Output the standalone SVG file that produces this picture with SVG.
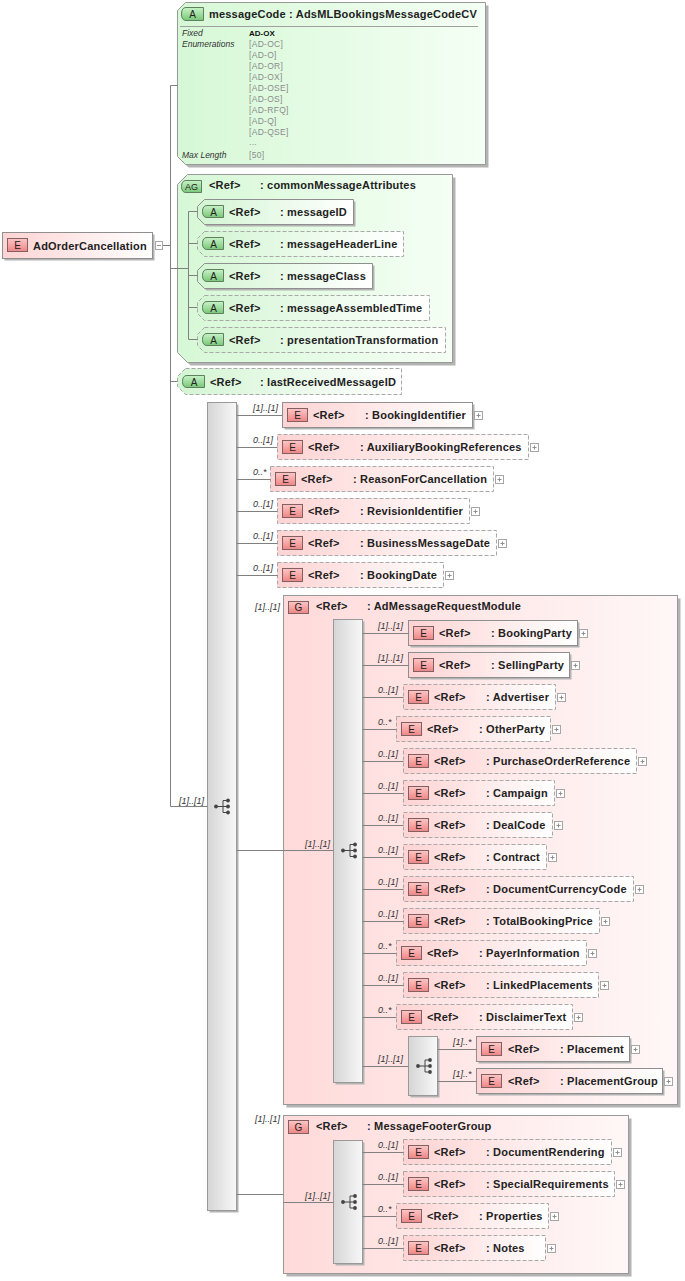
<svg xmlns="http://www.w3.org/2000/svg" width="685" height="1281" viewBox="0 0 685 1281">
<defs>
<linearGradient id="gE" x1="0" y1="0" x2="1" y2="0"><stop offset="0" stop-color="#ffd3d3"/><stop offset="1" stop-color="#ffffff"/></linearGradient>
<linearGradient id="gG" x1="0" y1="0" x2="1" y2="0"><stop offset="0" stop-color="#ffdada"/><stop offset="1" stop-color="#fff7f7"/></linearGradient>
<linearGradient id="gA" x1="0" y1="0" x2="1" y2="0"><stop offset="0" stop-color="#d3f5d3"/><stop offset="1" stop-color="#ffffff"/></linearGradient>
<linearGradient id="gAG" x1="0" y1="0" x2="1" y2="0"><stop offset="0" stop-color="#d6f8d6"/><stop offset="1" stop-color="#f5fff5"/></linearGradient>
<linearGradient id="gS" x1="0" y1="0" x2="1" y2="0"><stop offset="0" stop-color="#d5d5d5"/><stop offset="1" stop-color="#f8f8f8"/></linearGradient>
<linearGradient id="gBE" x1="0" y1="0" x2="0" y2="1"><stop offset="0" stop-color="#ffc6c6"/><stop offset="1" stop-color="#ee8585"/></linearGradient>
<linearGradient id="gBA" x1="0" y1="0" x2="0" y2="1"><stop offset="0" stop-color="#c8f2c8"/><stop offset="1" stop-color="#78c878"/></linearGradient>
<g id="seq"><path d="M-6 0H1M1 -6V6M1 -6H6M1 0H6M1 6H6" stroke="#444" fill="none"/><circle cx="-6" cy="0" r="1.9" fill="#444"/><circle cx="6" cy="-6" r="1.9" fill="#444"/><circle cx="6" cy="0" r="1.9" fill="#444"/><circle cx="6" cy="6" r="1.9" fill="#444"/></g>
<g id="plus"><rect x="2.5" y="-3.5" width="8" height="8" fill="#fff" stroke="#a6a6a6"/><path d="M4.5 0.5h4M6.5 -1.5v4" stroke="#909090" fill="none"/></g>
</defs>
<style>
.sh{fill:#b3b3b3}
.el{fill:url(#gE);stroke:#8f8f8f}
.eld{fill:url(#gE);stroke:#a8a8a8;stroke-dasharray:4 2}
.gr{fill:url(#gG);stroke:#999}
.at{fill:url(#gA);stroke:#8f8f8f}
.atd{fill:url(#gA);stroke:#a8a8a8;stroke-dasharray:4 2}
.ag{fill:url(#gAG);stroke:#999}
.sq{fill:url(#gS);stroke:#999}
.bE{fill:url(#gBE);stroke:#806060}
.bA{fill:url(#gBA);stroke:#5f7f5f}
.ln{stroke:#808080;fill:none}
.t{font-family:"Liberation Sans",Arial,sans-serif;font-size:11px;font-weight:bold;fill:#222;letter-spacing:0.2px}
.b{font-family:"Liberation Sans",Arial,sans-serif;font-size:10px;fill:#222;text-anchor:middle}
.m{font-family:"Liberation Sans",Arial,sans-serif;font-size:9px;font-style:italic;fill:#333}
.d{font-family:"Liberation Sans",Arial,sans-serif;font-size:8.5px;font-style:italic;fill:#333}
.v{font-family:"Liberation Sans",Arial,sans-serif;font-size:8.5px;fill:#8c8c8c;letter-spacing:0.3px}
.vb{font-family:"Liberation Sans",Arial,sans-serif;font-size:8px;font-weight:bold;fill:#111}
</style>
<rect width="685" height="1281" fill="#fff"/>

<g id="root">
<rect class="sh" x="4.5" y="234.5" width="150" height="26"/>
<rect class="el" x="2.5" y="232.5" width="150" height="26"/>
<rect class="bE" x="7.5" y="238.5" width="20" height="13"/>
<text class="b" x="17.5" y="249">E</text>
<text class="t" x="33" y="249.5">AdOrderCancellation</text>
<rect x="155.5" y="241.5" width="7" height="8" fill="#fff" stroke="#a6a6a6"/>
<path d="M157 245.5h4" stroke="#909090"/>
</g>

<g id="messageCode">
<path class="sh" d="M188.5 5.5H488.5V167.5H188.5L180.5 159.5V13.5Z"/>
<path class="ag" d="M185.5 2.5H485.5V164.5H185.5L177.5 156.5V10.5Z"/>
<path class="bA" d="M186 7.5H203.5V20.5H186Q181.5 20.5 181.5 14Q181.5 7.5 186 7.5Z"/>
<text class="b" x="192.5" y="18">A</text>
<text class="t" x="209" y="18">messageCode : AdsMLBookingsMessageCodeCV</text>
<path d="M180 26.5H478" stroke="#a0a0a0"/>
<text class="d" x="182" y="36">Fixed</text>
<text class="d" x="182" y="47">Enumerations</text>
<text class="vb" x="249" y="36">AD-OX</text>
<text class="v" x="249" y="46.5">[AD-OC]</text>
<text class="v" x="249" y="57.5">[AD-O]</text>
<text class="v" x="249" y="68.5">[AD-OR]</text>
<text class="v" x="249" y="79.5">[AD-OX]</text>
<text class="v" x="249" y="90.5">[AD-OSE]</text>
<text class="v" x="249" y="101.5">[AD-OS]</text>
<text class="v" x="249" y="112.5">[AD-RFQ]</text>
<text class="v" x="249" y="123.5">[AD-Q]</text>
<text class="v" x="249" y="134.5">[AD-QSE]</text>
<text class="v" x="249" y="144.5">...</text>
<text class="d" x="182" y="158">Max Length</text>
<text class="v" x="249" y="157.5">[50]</text>
</g>

<g id="commonMessageAttributes">
<path class="sh" d="M190.5 177.5H455.5V365.5H190.5L180.5 355.5V187.5Z"/>
<path class="ag" d="M187.5 174.5H452.5V362.5H187.5L177.5 352.5V184.5Z"/>
<path class="bA" d="M186 180.5H201.5V192.5H186Q181.5 192.5 181.5 186.5Q181.5 180.5 186 180.5Z"/>
<text class="b" x="191.5" y="190" style="font-size:9px">AG</text>
<text class="t" x="209" y="189">&lt;Ref&gt;</text>
<text class="t" x="260" y="189">: commonMessageAttributes</text>
</g>

<g id="messageID">
<path class="sh" d="M206.5 201.5H355.5V226.5H206.5L199.5 219.5V208.5Z"/>
<path class="at" d="M204.5 199.5H353.5V224.5H204.5L197.5 217.5V206.5Z"/>
<path class="bA" d="M207 205.5H223.5V217.5H207Q202.5 217.5 202.5 211.5Q202.5 205.5 207 205.5Z"/>
<text class="b" x="213.5" y="215.5">A</text>
<text class="t" x="229" y="216">&lt;Ref&gt;</text>
<text class="t" x="280" y="216">: messageID</text>
</g>
<g id="messageHeaderLine">
<path class="atd" d="M204.5 231.5H403.5V256.5H204.5L197.5 249.5V238.5Z"/>
<path class="bA" d="M207 237.5H223.5V249.5H207Q202.5 249.5 202.5 243.5Q202.5 237.5 207 237.5Z"/>
<text class="b" x="213.5" y="247.5">A</text>
<text class="t" x="229" y="248">&lt;Ref&gt;</text>
<text class="t" x="280" y="248">: messageHeaderLine</text>
</g>
<g id="messageClass">
<path class="sh" d="M206.5 265.5H374.5V290.5H206.5L199.5 283.5V272.5Z"/>
<path class="at" d="M204.5 263.5H372.5V288.5H204.5L197.5 281.5V270.5Z"/>
<path class="bA" d="M207 269.5H223.5V281.5H207Q202.5 281.5 202.5 275.5Q202.5 269.5 207 269.5Z"/>
<text class="b" x="213.5" y="279.5">A</text>
<text class="t" x="229" y="280">&lt;Ref&gt;</text>
<text class="t" x="280" y="280">: messageClass</text>
</g>
<g id="messageAssembledTime">
<path class="atd" d="M204.5 295.5H429.5V320.5H204.5L197.5 313.5V302.5Z"/>
<path class="bA" d="M207 301.5H223.5V313.5H207Q202.5 313.5 202.5 307.5Q202.5 301.5 207 301.5Z"/>
<text class="b" x="213.5" y="311.5">A</text>
<text class="t" x="229" y="312">&lt;Ref&gt;</text>
<text class="t" x="280" y="312">: messageAssembledTime</text>
</g>
<g id="presentationTransformation">
<path class="atd" d="M204.5 327.5H445.5V352.5H204.5L197.5 345.5V334.5Z"/>
<path class="bA" d="M207 333.5H223.5V345.5H207Q202.5 345.5 202.5 339.5Q202.5 333.5 207 333.5Z"/>
<text class="b" x="213.5" y="343.5">A</text>
<text class="t" x="229" y="344">&lt;Ref&gt;</text>
<text class="t" x="280" y="344">: presentationTransformation</text>
</g>

<g id="lastReceivedMessageID">
<path class="atd" d="M185.5 368.5H401.5V394.5H185.5L177.5 386.5V376.5Z"/>
<path class="bA" d="M187 375.5H204.5V387.5H187Q182.5 387.5 182.5 381.5Q182.5 375.5 187 375.5Z"/>
<text class="b" x="194" y="385.5">A</text>
<text class="t" x="210" y="385.5">&lt;Ref&gt;</text>
<text class="t" x="260" y="385.5">: lastReceivedMessageID</text>
</g>

<g id="mainSequence">
<rect class="sh" x="209.5" y="404.5" width="29" height="808"/>
<rect class="sq" x="207.5" y="402.5" width="29" height="808"/>
<use href="#seq" x="222" y="806.5"/>
</g>

<g id="BookingIdentifier">
<rect class="sh" x="284.5" y="404.5" width="190" height="25"/>
<rect class="el" x="282.5" y="402.5" width="190" height="25"/>
<rect class="bE" x="287.5" y="408.5" width="20" height="13"/>
<text class="b" x="297.5" y="419">E</text>
<text class="t" x="313" y="419">&lt;Ref&gt;</text>
<text class="t" x="365" y="419">: BookingIdentifier</text>
<use href="#plus" x="472" y="415"/>
</g>
<g id="AuxiliaryBookingReferences">
<rect class="eld" x="277.5" y="434.5" width="251" height="25"/>
<rect class="bE" x="282.5" y="440.5" width="20" height="13"/>
<text class="b" x="292.5" y="451">E</text>
<text class="t" x="308" y="451">&lt;Ref&gt;</text>
<text class="t" x="360" y="451">: AuxiliaryBookingReferences</text>
<use href="#plus" x="528" y="447"/>
</g>
<g id="ReasonForCancellation">
<rect class="eld" x="270.5" y="466.5" width="223" height="25"/>
<rect class="bE" x="275.5" y="472.5" width="20" height="13"/>
<text class="b" x="285.5" y="483">E</text>
<text class="t" x="301" y="483">&lt;Ref&gt;</text>
<text class="t" x="353" y="483">: ReasonForCancellation</text>
<use href="#plus" x="493" y="479"/>
</g>
<g id="RevisionIdentifier">
<rect class="eld" x="277.5" y="498.5" width="192" height="25"/>
<rect class="bE" x="282.5" y="504.5" width="20" height="13"/>
<text class="b" x="292.5" y="515">E</text>
<text class="t" x="308" y="515">&lt;Ref&gt;</text>
<text class="t" x="360" y="515">: RevisionIdentifier</text>
<use href="#plus" x="469" y="511"/>
</g>
<g id="BusinessMessageDate">
<rect class="eld" x="277.5" y="530.5" width="219" height="25"/>
<rect class="bE" x="282.5" y="536.5" width="20" height="13"/>
<text class="b" x="292.5" y="547">E</text>
<text class="t" x="308" y="547">&lt;Ref&gt;</text>
<text class="t" x="360" y="547">: BusinessMessageDate</text>
<use href="#plus" x="496" y="543"/>
</g>
<g id="BookingDate">
<rect class="eld" x="277.5" y="562.5" width="166" height="25"/>
<rect class="bE" x="282.5" y="568.5" width="20" height="13"/>
<text class="b" x="292.5" y="579">E</text>
<text class="t" x="308" y="579">&lt;Ref&gt;</text>
<text class="t" x="360" y="579">: BookingDate</text>
<use href="#plus" x="443" y="575"/>
</g>

<g id="AdMessageRequestModule">
<rect class="sh" x="286.5" y="598.5" width="394" height="509"/>
<rect class="gr" x="283.5" y="595.5" width="394" height="509"/>
<rect class="bE" x="288.5" y="601.5" width="20" height="12"/>
<text class="b" x="298.5" y="611">G</text>
<text class="t" x="316" y="610">&lt;Ref&gt;</text>
<text class="t" x="367" y="610">: AdMessageRequestModule</text>
</g>
<g id="requestSequence">
<rect class="sh" x="335.5" y="621.5" width="29" height="463"/>
<rect class="sq" x="333.5" y="619.5" width="29" height="463"/>
<use href="#seq" x="349" y="850.5"/>
</g>

<g id="BookingParty">
<rect class="sh" x="410.5" y="622.5" width="169" height="25"/>
<rect class="el" x="408.5" y="620.5" width="169" height="25"/>
<rect class="bE" x="413.5" y="626.5" width="20" height="13"/>
<text class="b" x="423.5" y="637">E</text>
<text class="t" x="439" y="637">&lt;Ref&gt;</text>
<text class="t" x="491" y="637">: BookingParty</text>
<use href="#plus" x="577" y="633"/>
</g>
<g id="SellingParty">
<rect class="sh" x="410.5" y="654.5" width="161" height="25"/>
<rect class="el" x="408.5" y="652.5" width="161" height="25"/>
<rect class="bE" x="413.5" y="658.5" width="20" height="13"/>
<text class="b" x="423.5" y="669">E</text>
<text class="t" x="439" y="669">&lt;Ref&gt;</text>
<text class="t" x="491" y="669">: SellingParty</text>
<use href="#plus" x="569" y="665"/>
</g>
<g id="Advertiser">
<rect class="eld" x="403.5" y="684.5" width="152" height="25"/>
<rect class="bE" x="408.5" y="690.5" width="20" height="13"/>
<text class="b" x="418.5" y="701">E</text>
<text class="t" x="434" y="701">&lt;Ref&gt;</text>
<text class="t" x="486" y="701">: Advertiser</text>
<use href="#plus" x="555" y="697"/>
</g>
<g id="OtherParty">
<rect class="eld" x="396.5" y="716.5" width="154" height="25"/>
<rect class="bE" x="401.5" y="722.5" width="20" height="13"/>
<text class="b" x="411.5" y="733">E</text>
<text class="t" x="427" y="733">&lt;Ref&gt;</text>
<text class="t" x="479" y="733">: OtherParty</text>
<use href="#plus" x="550" y="729"/>
</g>
<g id="PurchaseOrderReference">
<rect class="eld" x="403.5" y="748.5" width="233" height="25"/>
<rect class="bE" x="408.5" y="754.5" width="20" height="13"/>
<text class="b" x="418.5" y="765">E</text>
<text class="t" x="434" y="765">&lt;Ref&gt;</text>
<text class="t" x="486" y="765">: PurchaseOrderReference</text>
<use href="#plus" x="636" y="761"/>
</g>
<g id="Campaign">
<rect class="eld" x="403.5" y="780.5" width="151" height="25"/>
<rect class="bE" x="408.5" y="786.5" width="20" height="13"/>
<text class="b" x="418.5" y="797">E</text>
<text class="t" x="434" y="797">&lt;Ref&gt;</text>
<text class="t" x="486" y="797">: Campaign</text>
<use href="#plus" x="554" y="793"/>
</g>
<g id="DealCode">
<rect class="eld" x="403.5" y="812.5" width="149" height="25"/>
<rect class="bE" x="408.5" y="818.5" width="20" height="13"/>
<text class="b" x="418.5" y="829">E</text>
<text class="t" x="434" y="829">&lt;Ref&gt;</text>
<text class="t" x="486" y="829">: DealCode</text>
<use href="#plus" x="552" y="825"/>
</g>
<g id="Contract">
<rect class="eld" x="403.5" y="844.5" width="143" height="25"/>
<rect class="bE" x="408.5" y="850.5" width="20" height="13"/>
<text class="b" x="418.5" y="861">E</text>
<text class="t" x="434" y="861">&lt;Ref&gt;</text>
<text class="t" x="486" y="861">: Contract</text>
<use href="#plus" x="546" y="857"/>
</g>
<g id="DocumentCurrencyCode">
<rect class="eld" x="403.5" y="876.5" width="230" height="25"/>
<rect class="bE" x="408.5" y="882.5" width="20" height="13"/>
<text class="b" x="418.5" y="893">E</text>
<text class="t" x="434" y="893">&lt;Ref&gt;</text>
<text class="t" x="486" y="893">: DocumentCurrencyCode</text>
<use href="#plus" x="633" y="889"/>
</g>
<g id="TotalBookingPrice">
<rect class="eld" x="403.5" y="908.5" width="196" height="25"/>
<rect class="bE" x="408.5" y="914.5" width="20" height="13"/>
<text class="b" x="418.5" y="925">E</text>
<text class="t" x="434" y="925">&lt;Ref&gt;</text>
<text class="t" x="486" y="925">: TotalBookingPrice</text>
<use href="#plus" x="599" y="921"/>
</g>
<g id="PayerInformation">
<rect class="eld" x="396.5" y="940.5" width="190" height="25"/>
<rect class="bE" x="401.5" y="946.5" width="20" height="13"/>
<text class="b" x="411.5" y="957">E</text>
<text class="t" x="427" y="957">&lt;Ref&gt;</text>
<text class="t" x="479" y="957">: PayerInformation</text>
<use href="#plus" x="586" y="953"/>
</g>
<g id="LinkedPlacements">
<rect class="eld" x="403.5" y="972.5" width="195" height="25"/>
<rect class="bE" x="408.5" y="978.5" width="20" height="13"/>
<text class="b" x="418.5" y="989">E</text>
<text class="t" x="434" y="989">&lt;Ref&gt;</text>
<text class="t" x="486" y="989">: LinkedPlacements</text>
<use href="#plus" x="598" y="985"/>
</g>
<g id="DisclaimerText">
<rect class="eld" x="396.5" y="1004.5" width="176" height="25"/>
<rect class="bE" x="401.5" y="1010.5" width="20" height="13"/>
<text class="b" x="411.5" y="1021">E</text>
<text class="t" x="427" y="1021">&lt;Ref&gt;</text>
<text class="t" x="479" y="1021">: DisclaimerText</text>
<use href="#plus" x="572" y="1017"/>
</g>
<g id="placementSequence">
<rect class="sh" x="410.5" y="1038.5" width="29" height="59"/>
<rect class="sq" x="408.5" y="1036.5" width="29" height="59"/>
<use href="#seq" x="424" y="1066"/>
</g>
<g id="Placement">
<rect class="sh" x="478.5" y="1038.5" width="153" height="25"/>
<rect class="el" x="476.5" y="1036.5" width="153" height="25"/>
<rect class="bE" x="481.5" y="1042.5" width="20" height="13"/>
<text class="b" x="491.5" y="1053">E</text>
<text class="t" x="508" y="1053">&lt;Ref&gt;</text>
<text class="t" x="560" y="1053">: Placement</text>
<use href="#plus" x="629" y="1049"/>
</g>
<g id="PlacementGroup">
<rect class="sh" x="478.5" y="1070.5" width="186" height="25"/>
<rect class="el" x="476.5" y="1068.5" width="186" height="25"/>
<rect class="bE" x="481.5" y="1074.5" width="20" height="13"/>
<text class="b" x="491.5" y="1085">E</text>
<text class="t" x="508" y="1085">&lt;Ref&gt;</text>
<text class="t" x="560" y="1085">: PlacementGroup</text>
<use href="#plus" x="662" y="1081"/>
</g>

<g id="MessageFooterGroup">
<rect class="sh" x="286.5" y="1118.5" width="345" height="158"/>
<rect class="gr" x="283.5" y="1115.5" width="345" height="158"/>
<rect class="bE" x="288.5" y="1120.5" width="20" height="13"/>
<text class="b" x="298.5" y="1131">G</text>
<text class="t" x="316" y="1130">&lt;Ref&gt;</text>
<text class="t" x="367" y="1130">: MessageFooterGroup</text>
</g>
<g id="footerSequence">
<rect class="sh" x="335.5" y="1142.5" width="29" height="123"/>
<rect class="sq" x="333.5" y="1140.5" width="29" height="123"/>
<use href="#seq" x="349" y="1202"/>
</g>
<g id="DocumentRendering">
<rect class="eld" x="403.5" y="1139.5" width="208" height="25"/>
<rect class="bE" x="408.5" y="1145.5" width="20" height="13"/>
<text class="b" x="418.5" y="1156">E</text>
<text class="t" x="434" y="1156">&lt;Ref&gt;</text>
<text class="t" x="486" y="1156">: DocumentRendering</text>
<use href="#plus" x="611" y="1152"/>
</g>
<g id="SpecialRequirements">
<rect class="eld" x="403.5" y="1171.5" width="211" height="25"/>
<rect class="bE" x="408.5" y="1177.5" width="20" height="13"/>
<text class="b" x="418.5" y="1188">E</text>
<text class="t" x="434" y="1188">&lt;Ref&gt;</text>
<text class="t" x="486" y="1188">: SpecialRequirements</text>
<use href="#plus" x="614" y="1184"/>
</g>
<g id="Properties">
<rect class="eld" x="396.5" y="1203.5" width="152" height="25"/>
<rect class="bE" x="401.5" y="1209.5" width="20" height="13"/>
<text class="b" x="411.5" y="1220">E</text>
<text class="t" x="427" y="1220">&lt;Ref&gt;</text>
<text class="t" x="479" y="1220">: Properties</text>
<use href="#plus" x="548" y="1216"/>
</g>
<g id="Notes">
<rect class="eld" x="403.5" y="1235.5" width="142" height="25"/>
<rect class="bE" x="408.5" y="1241.5" width="20" height="13"/>
<text class="b" x="418.5" y="1252">E</text>
<text class="t" x="434" y="1252">&lt;Ref&gt;</text>
<text class="t" x="486" y="1252">: Notes</text>
<use href="#plus" x="545" y="1248"/>
</g>

<g id="connectors">
<path class="ln" d="M163 245.5H170.5M170.5 85.5V806.5M170.5 85.5H177.5M170.5 268.5H188.5M188.5 211.5V339.5M188.5 211.5H197.5M188.5 243.5H197.5M188.5 275.5H197.5M188.5 307.5H197.5M188.5 339.5H197.5M170.5 381.5H177.5M170.5 806.5H207.5"/>
<path class="ln" d="M236.5 415.5H282.5M236.5 447.5H277.5M236.5 479.5H270.5M236.5 511.5H277.5M236.5 543.5H277.5M236.5 575.5H277.5M236.5 850.5H333.5M236.5 1194.5H283.5M283.5 1202.5H333.5"/>
<path class="ln" d="M362.5 633.5H408.5M362.5 665.5H408.5M362.5 697.5H403.5M362.5 729.5H396.5M362.5 761.5H403.5M362.5 793.5H403.5M362.5 825.5H403.5M362.5 857.5H403.5M362.5 889.5H403.5M362.5 921.5H403.5M362.5 953.5H396.5M362.5 985.5H403.5M362.5 1017.5H396.5M362.5 1066.5H408.5M437.5 1049.5H476.5M437.5 1081.5H476.5"/>
<path class="ln" d="M362.5 1152.5H403.5M362.5 1184.5H403.5M362.5 1216.5H396.5M362.5 1248.5H403.5"/>
<text class="m" x="204" y="804" text-anchor="end">[1]..[1]</text>
<text class="m" x="253" y="411">[1]..[1]</text>
<text class="m" x="253" y="443">0..[1]</text>
<text class="m" x="253" y="475">0..*</text>
<text class="m" x="253" y="507">0..[1]</text>
<text class="m" x="253" y="539">0..[1]</text>
<text class="m" x="253" y="571">0..[1]</text>
<text class="m" x="255" y="610">[1]..[1]</text>
<text class="m" x="330" y="847" text-anchor="end">[1]..[1]</text>
<text class="m" x="378" y="629">[1]..[1]</text>
<text class="m" x="378" y="661">[1]..[1]</text>
<text class="m" x="378" y="693">0..[1]</text>
<text class="m" x="378" y="725">0..*</text>
<text class="m" x="378" y="757">0..[1]</text>
<text class="m" x="378" y="789">0..[1]</text>
<text class="m" x="378" y="821">0..[1]</text>
<text class="m" x="378" y="853">0..[1]</text>
<text class="m" x="378" y="885">0..[1]</text>
<text class="m" x="378" y="917">0..[1]</text>
<text class="m" x="378" y="949">0..*</text>
<text class="m" x="378" y="981">0..[1]</text>
<text class="m" x="378" y="1013">0..*</text>
<text class="m" x="378" y="1062">[1]..[1]</text>
<text class="m" x="453" y="1045">[1]..*</text>
<text class="m" x="453" y="1077">[1]..*</text>
<text class="m" x="255" y="1122">[1]..[1]</text>
<text class="m" x="330" y="1199" text-anchor="end">[1]..[1]</text>
<text class="m" x="378" y="1148">0..[1]</text>
<text class="m" x="378" y="1180">0..[1]</text>
<text class="m" x="378" y="1212">0..*</text>
<text class="m" x="378" y="1244">0..[1]</text>
</g>
</svg>
